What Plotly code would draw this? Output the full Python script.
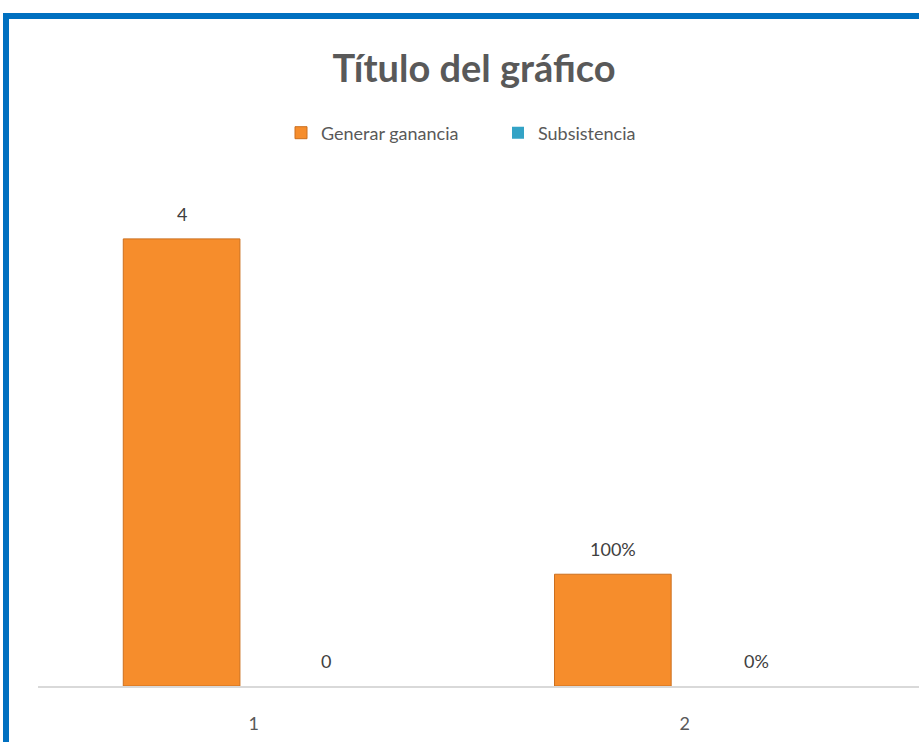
import plotly.graph_objects as go

categorias = ["1", "2"]
generar_ganancia = [4, 1]
generar_ganancia_txt = ["4", "100%"]
subsistencia = [0, 0]
subsistencia_txt = ["0", "0%"]

GRIS = "#595959"
AZUL = "#0070C0"
FUENTE = "Lato"

fig = go.Figure()
fig.add_trace(go.Bar(
    x=categorias, y=generar_ganancia, name="Generar ganancia",
    marker=dict(color="#F68D2C", line=dict(color="#CC6F1E", width=1)),
))
fig.add_trace(go.Bar(
    x=categorias, y=subsistencia, name="Subsistencia",
    marker=dict(color="#33A3C6", line=dict(color="#33A3C6", width=0)),
))

# etiquetas de datos encima de cada barra (desplazadas al hueco de cada serie)
for serie, textos, dx in [(generar_ganancia, generar_ganancia_txt, -72),
                          (subsistencia, subsistencia_txt, 72)]:
    for i, (val, txt) in enumerate(zip(serie, textos)):
        fig.add_annotation(x=i, y=val, text=txt, showarrow=False,
                           xshift=dx, yshift=25, yanchor="middle",
                           font=dict(family=FUENTE, size=18, color="#404040"))

# marco azul (solo se ven el borde superior e izquierdo)
L, T, W, H = 38, 183, 881, 503


def px_x(p):
    return (p - L) / W


def px_y(p):
    return (T + H - p) / H


fig.add_shape(type="rect", xref="paper", yref="paper",
              x0=px_x(3), x1=px_x(940), y0=px_y(19), y1=px_y(13),
              fillcolor=AZUL, line_width=0, layer="above")
fig.add_shape(type="rect", xref="paper", yref="paper",
              x0=px_x(3), x1=px_x(9), y0=px_y(760), y1=px_y(13),
              fillcolor=AZUL, line_width=0, layer="above")

fig.update_layout(
    width=919, height=742,
    margin=dict(l=L, r=0, t=T, b=742 - T - H),
    paper_bgcolor="white", plot_bgcolor="white",
    font=dict(family=FUENTE, color=GRIS, size=18),
    title=dict(text="<b>Título del gráfico</b>", xref="container", x=474 / 919,
               xanchor="center", yref="container", y=1 - 69 / 742, yanchor="middle",
               font=dict(family=FUENTE, size=38, color=GRIS)),
    legend=dict(orientation="h", xref="container", x=498 / 919, xanchor="center",
                yref="container", y=1 - 133 / 742, yanchor="middle",
                font=dict(size=18, color=GRIS), itemwidth=30,
                entrywidth=172),
    barmode="group", bargap=0.332, bargroupgap=0.19,
    showlegend=True,
)
fig.update_xaxes(type="category", range=[-0.5, 1.543], showline=True,
                 linecolor="#D9D9D9", linewidth=2,
                 showgrid=False, ticks="", tickfont=dict(size=18, color=GRIS),
                 ticklabelstandoff=20)
fig.update_yaxes(range=[0, 4.5], visible=False, showgrid=False, zeroline=False)

fig.write_html("out.html", config={"displayModeBar": False},
               post_script="document.body.style.margin='0';")
